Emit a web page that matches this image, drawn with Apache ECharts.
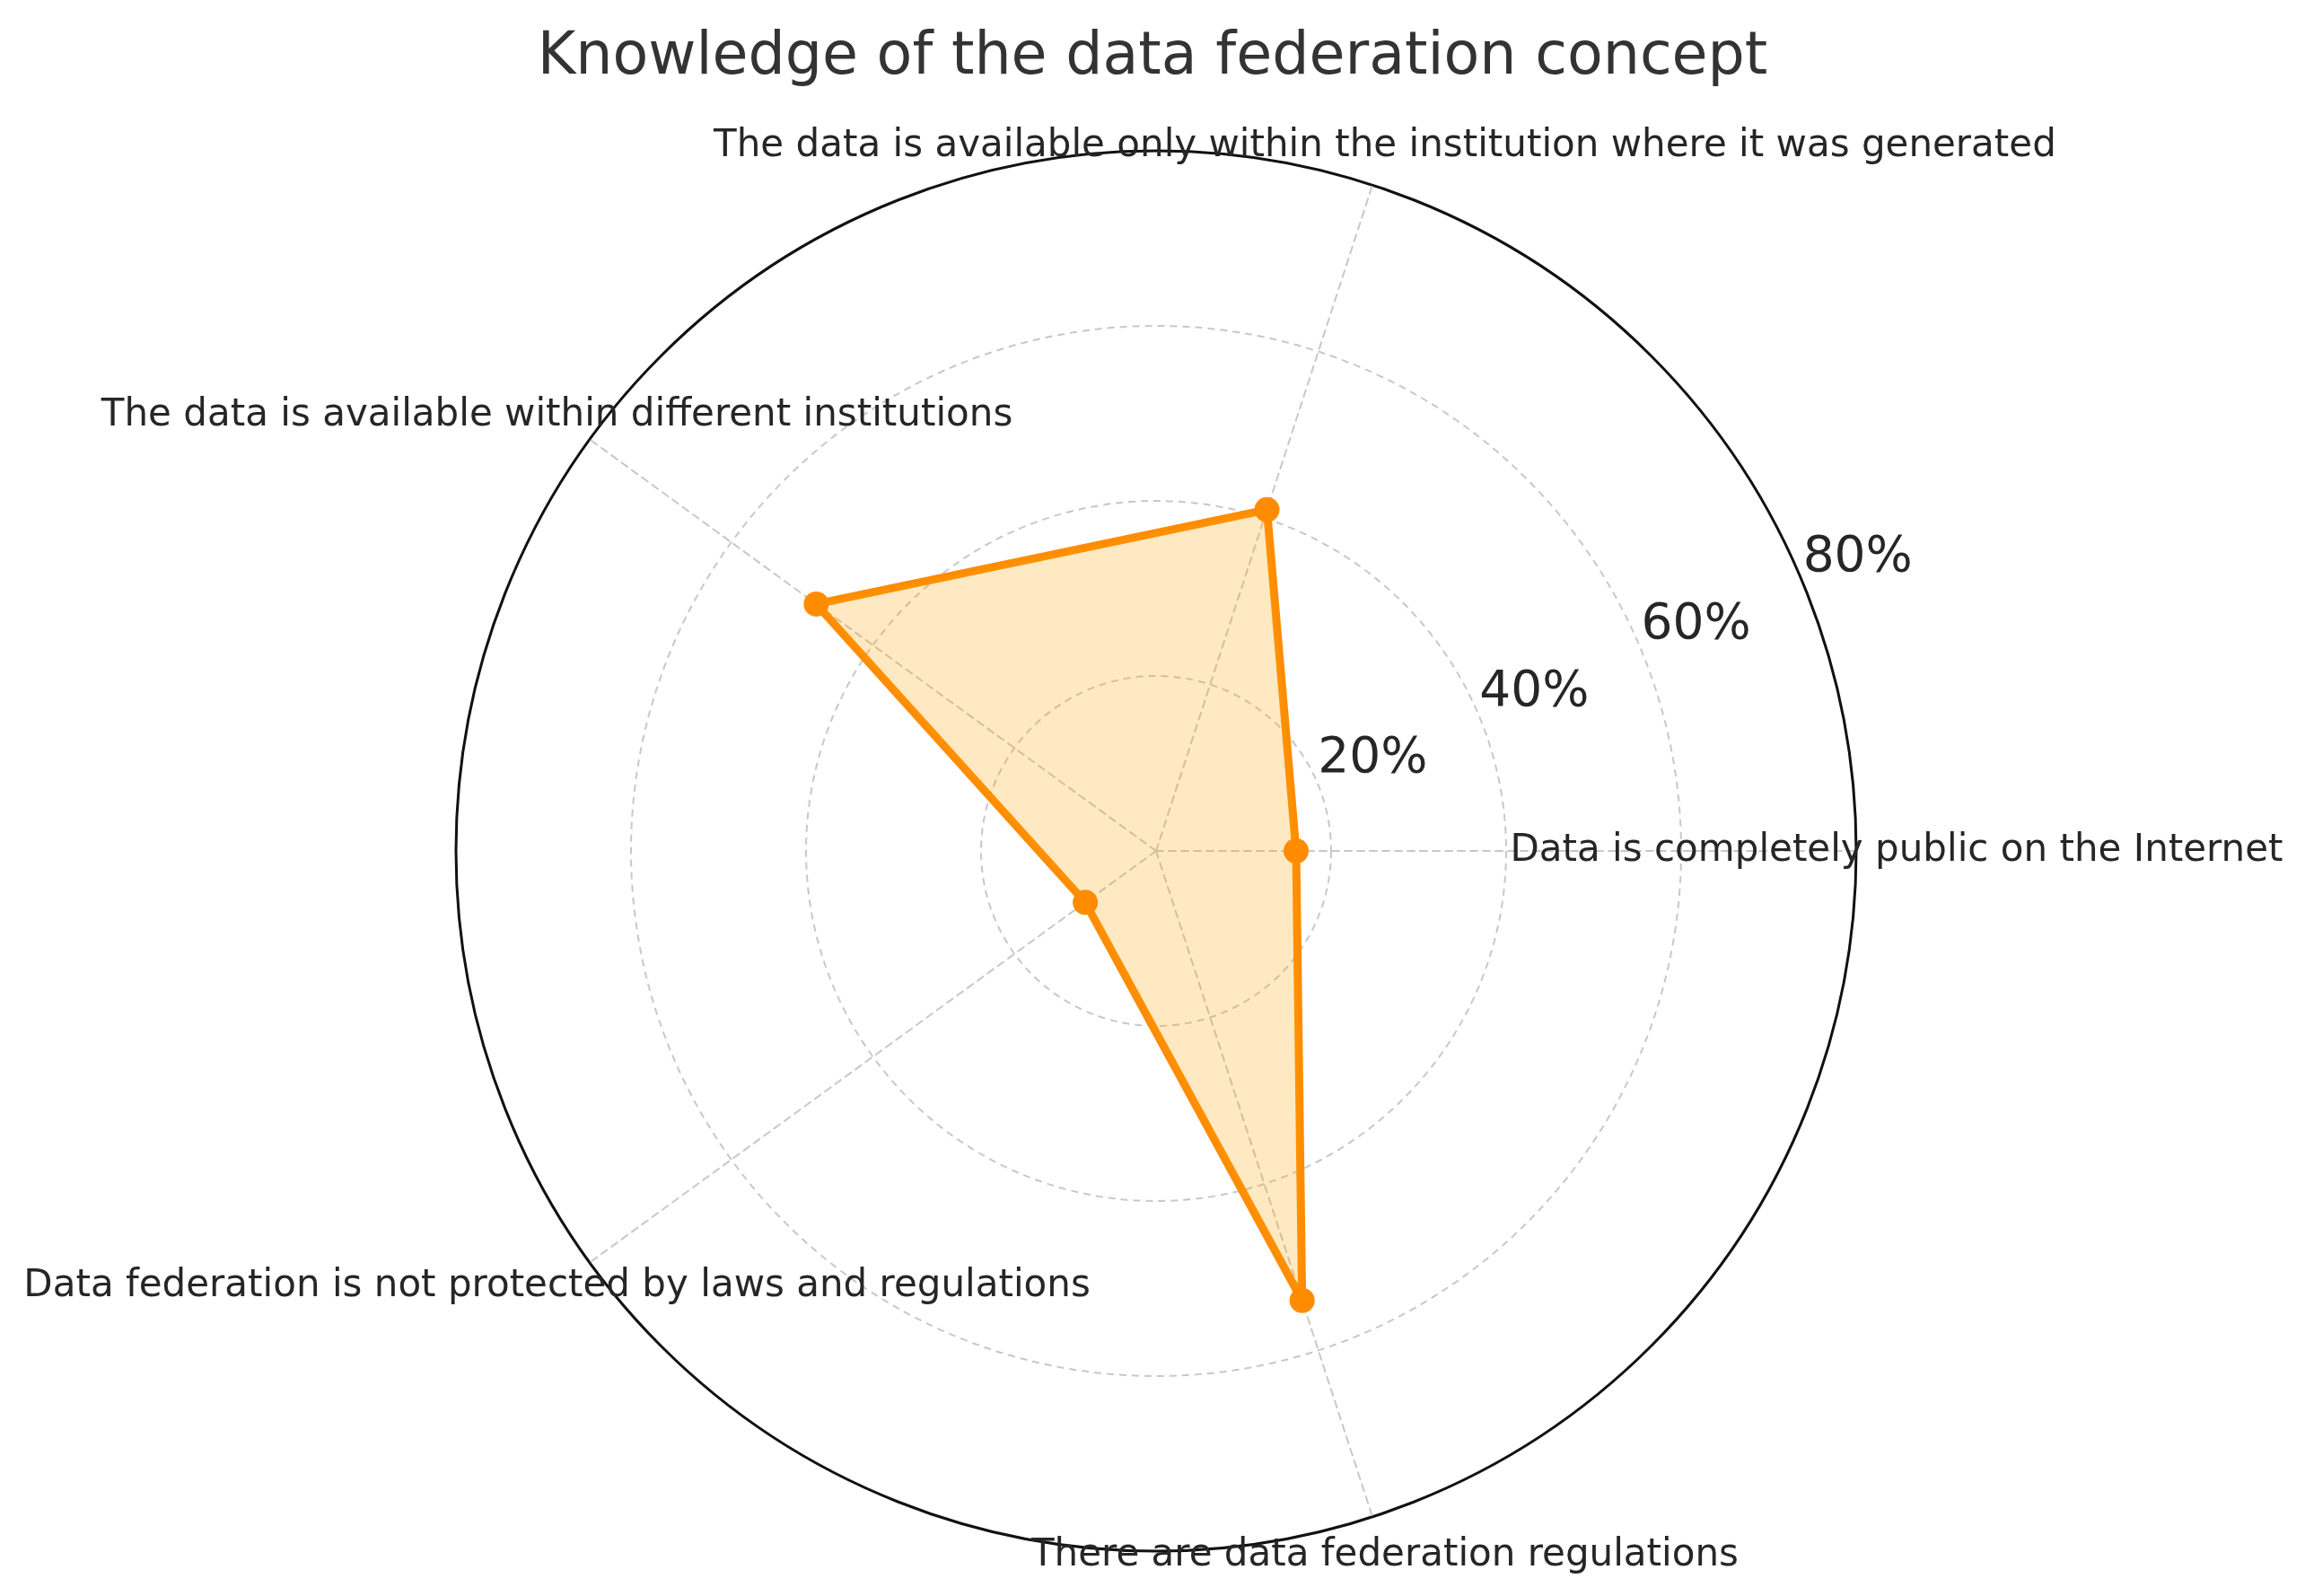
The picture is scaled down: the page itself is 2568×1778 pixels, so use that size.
<!DOCTYPE html>
<html>
<head>
<meta charset="utf-8">
<script src="https://cdn.jsdelivr.net/npm/echarts@6/dist/echarts.min.js"></script>
<style>
  html, body { margin: 0; padding: 0; background: #fff; }
  #chart { width: 2568px; height: 1778px; }
</style>
</head>
<body>
<div id="chart"></div>
<script>
var titleText = 'Knowledge of the data federation concept';
var categories = [
    'Data is completely public on the Internet',
    'The data is available only within the institution where it was generated',
    'The data is available within different institutions',
    'Data federation is not protected by laws and regulations',
    'There are data federation regulations'
];
var values = [16, 41, 48, 10, 54];
var maxValue = 80;
var tickStep = 20;

var font = 'DejaVu Sans';
var center = [1288, 948];
var radius = 780;

var chart = echarts.init(document.getElementById('chart'));

var indicator = categories.map(function (name) {
    return {name: name, max: maxValue, min: 0};
});

chart.setOption({
    backgroundColor: '#ffffff',
    title: {
        text: titleText,
        left: 'center',
        top: 28,
        textStyle: {fontFamily: font, fontSize: 65, fontWeight: 'normal', color: '#333333'}
    },
    radar: [{
        center: center,
        radius: radius,
        startAngle: 0,
        shape: 'circle',
        splitNumber: maxValue / tickStep,
        indicator: indicator,
        axisNameGap: 45,
        axisName: {
            fontFamily: font,
            fontSize: 42,
            color: '#262626',
            align: 'center',
            verticalAlign: 'middle'
        },
        axisLine: {lineStyle: {color: '#c8c8c8', width: 2, type: [8, 6]}},
        splitLine: {lineStyle: {color: '#c8c8c8', width: 2, type: [8, 6]}},
        splitArea: {show: false}
    }, {
        // solid outer circle, like the polar spine
        center: center,
        radius: radius,
        startAngle: 0,
        shape: 'circle',
        splitNumber: 1,
        indicator: indicator,
        axisName: {show: false},
        axisLine: {show: false},
        splitLine: {lineStyle: {color: '#111111', width: 3, type: 'solid'}},
        splitArea: {show: false}
    }],
    polar: {center: center, radius: radius},
    angleAxis: {
        type: 'value', min: 0, max: 360, startAngle: 22.5,
        axisLine: {show: false}, axisTick: {show: false},
        axisLabel: {show: false}, splitLine: {show: false}
    },
    radiusAxis: {
        type: 'value', min: 0, max: maxValue, interval: tickStep,
        axisLine: {show: false}, axisTick: {show: false}, splitLine: {show: false},
        axisLabel: {
            showMinLabel: false,
            formatter: '{value}%',
            fontFamily: font,
            fontSize: 55,
            color: '#262626',
            margin: 0,
            align: 'left',
            verticalAlign: 'bottom'
        }
    },
    series: [{
        type: 'radar',
        radarIndex: 0,
        symbol: 'circle',
        symbolSize: 28,
        lineStyle: {color: '#ff8c00', width: 9},
        itemStyle: {color: '#ff8c00'},
        areaStyle: {color: '#ffa500', opacity: 0.24},
        data: [{value: values, name: titleText}]
    }]
});
</script>
</body>
</html>
